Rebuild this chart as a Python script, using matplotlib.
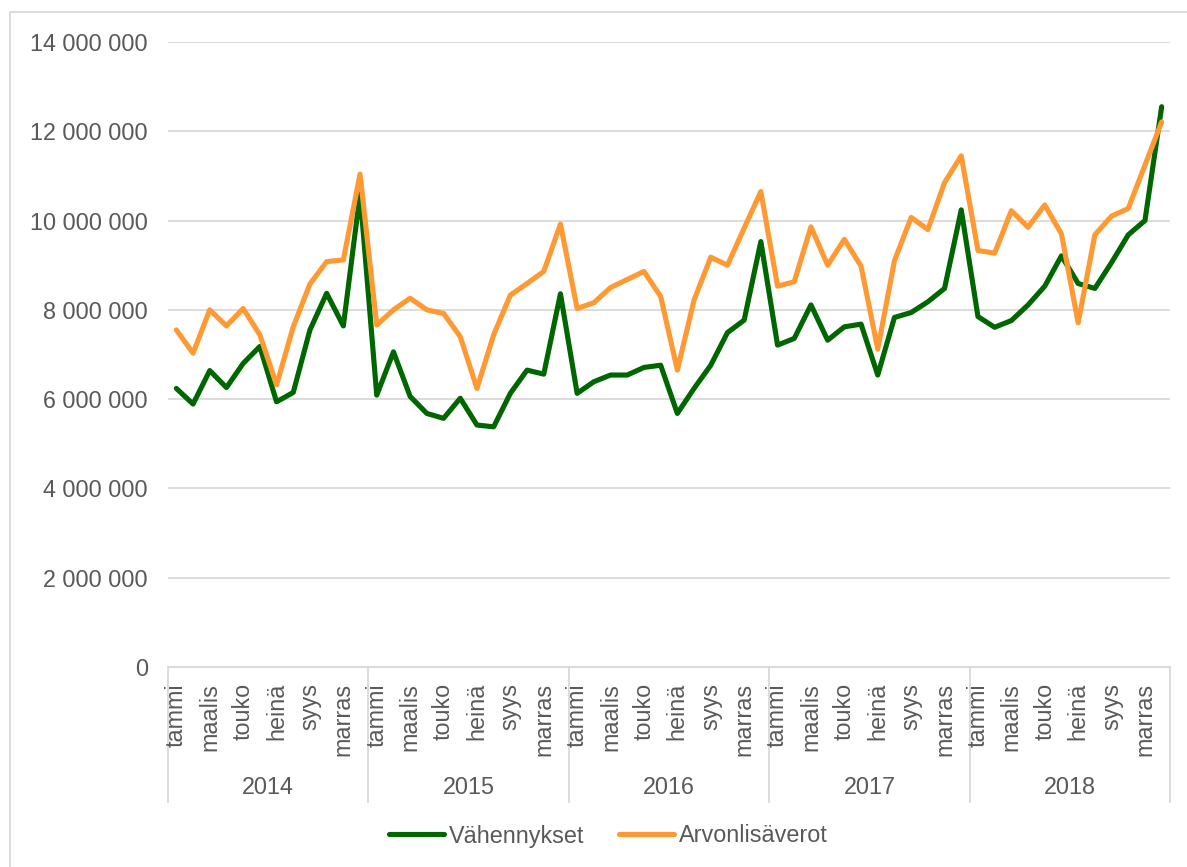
import matplotlib
matplotlib.use("Agg")
import matplotlib.pyplot as plt
from matplotlib.lines import Line2D
from matplotlib.patches import Rectangle
import matplotlib.ticker as mticker

plt.rcParams['font.family'] = ['Liberation Sans', 'DejaVu Sans']

years = ["2014", "2015", "2016", "2017", "2018"]
months = ["tammi", "helmi", "maalis", "huhti", "touko", "kesä",
          "heinä", "elo", "syys", "loka", "marras", "joulu"]
shown_months = ["tammi", "maalis", "touko", "heinä", "syys", "marras"]

vahennykset = [
    6.24, 5.89, 6.64, 6.26, 6.80, 7.18, 5.94, 6.15, 7.55, 8.37, 7.64, 10.60,
    6.09, 7.06, 6.06, 5.68, 5.57, 6.02, 5.42, 5.38, 6.13, 6.65, 6.56, 8.36,
    6.13, 6.39, 6.54, 6.54, 6.71, 6.76, 5.68, 6.24, 6.76, 7.49, 7.77, 9.53,
    7.21, 7.36, 8.11, 7.32, 7.62, 7.68, 6.54, 7.83, 7.94, 8.18, 8.48, 10.24,
    7.85, 7.61, 7.76, 8.11, 8.53, 9.21, 8.59, 8.48, 9.06, 9.68, 10.00, 12.55,
]
arvonlisaverot = [
    7.55, 7.03, 8.00, 7.64, 8.03, 7.44, 6.32, 7.62, 8.58, 9.08, 9.12, 11.04,
    7.66, 8.00, 8.26, 8.00, 7.92, 7.40, 6.24, 7.44, 8.33, 8.59, 8.86, 9.92,
    8.03, 8.16, 8.50, 8.68, 8.86, 8.30, 6.65, 8.22, 9.18, 9.00, 9.83, 10.65,
    8.53, 8.63, 9.86, 9.00, 9.58, 8.98, 7.12, 9.10, 10.07, 9.80, 10.85, 11.45,
    9.33, 9.27, 10.22, 9.85, 10.35, 9.70, 7.71, 9.68, 10.10, 10.27, 11.24, 12.21,
]
scale = 1_000_000

W, H = 1187, 867
fig = plt.figure(figsize=(W / 100, H / 100), dpi=100)
L, R, B, T = 168, 1170, 667, 42
ax = fig.add_axes([L / W, 1 - B / H, (R - L) / W, (B - T) / H])

text_color = "#595959"
grid_color = "#d9d9d9"
fs = 16.8

n = len(vahennykset)
x = list(range(n))
green = "#006600"
orange = "#FF9933"
ax.plot(x, [v * scale for v in vahennykset], color=green, lw=3.7,
        solid_joinstyle="round", solid_capstyle="round", label="Vähennykset", zorder=3)
ax.plot(x, [v * scale for v in arvonlisaverot], color=orange, lw=3.7,
        solid_joinstyle="round", solid_capstyle="round", label="Arvonlisäverot", zorder=4)

ax.set_xlim(-0.5, n - 0.5)
ax.set_ylim(0, 14_000_000)
ax.yaxis.set_major_locator(mticker.MultipleLocator(2_000_000))
ax.yaxis.set_major_formatter(mticker.FuncFormatter(lambda v, p: f"{int(v):,}".replace(",", " ")))
ax.tick_params(axis="y", length=0, pad=14.5, labelsize=fs, labelcolor=text_color)
ax.grid(axis="y", color=grid_color, lw=1.3)
ax.set_axisbelow(True)
ax.set_xticks([])
for s in ["left", "right", "top"]:
    ax.spines[s].set_visible(False)
ax.spines["bottom"].set_color(grid_color)
ax.spines["bottom"].set_linewidth(1.3)

trans = ax.get_xaxis_transform()
ph = B - T
for yi, yr in enumerate(years):
    for mi, m in enumerate(months):
        if m in shown_months:
            ax.text(yi * 12 + mi, -16 / ph, m, transform=trans, rotation=90,
                    ha="center", va="top", fontsize=fs, color=text_color, clip_on=False)
    ax.text(yi * 12 + 5.5, -120 / ph, yr, transform=trans, ha="center", va="center",
            fontsize=fs, color=text_color, clip_on=False)
for k in range(len(years) + 1):
    ax.add_line(Line2D([k * 12 - 0.5, k * 12 - 0.5], [0, -135 / ph], transform=trans,
                       color=grid_color, lw=1.3, clip_on=False))

leg = fig.legend(loc="center", bbox_to_anchor=(0.5 + 15 / W, 1 - 836 / H), ncol=2, frameon=False,
                 fontsize=fs, handlelength=2.35, handletextpad=0.2, columnspacing=1.5,
                 labelcolor=text_color)

fig.add_artist(Rectangle((10 / W, -0.1), 1.2, 1 - 12 / H + 0.1, transform=fig.transFigure,
                         fill=False, edgecolor=grid_color, lw=1.3))

fig.savefig("out.png", dpi=100)
